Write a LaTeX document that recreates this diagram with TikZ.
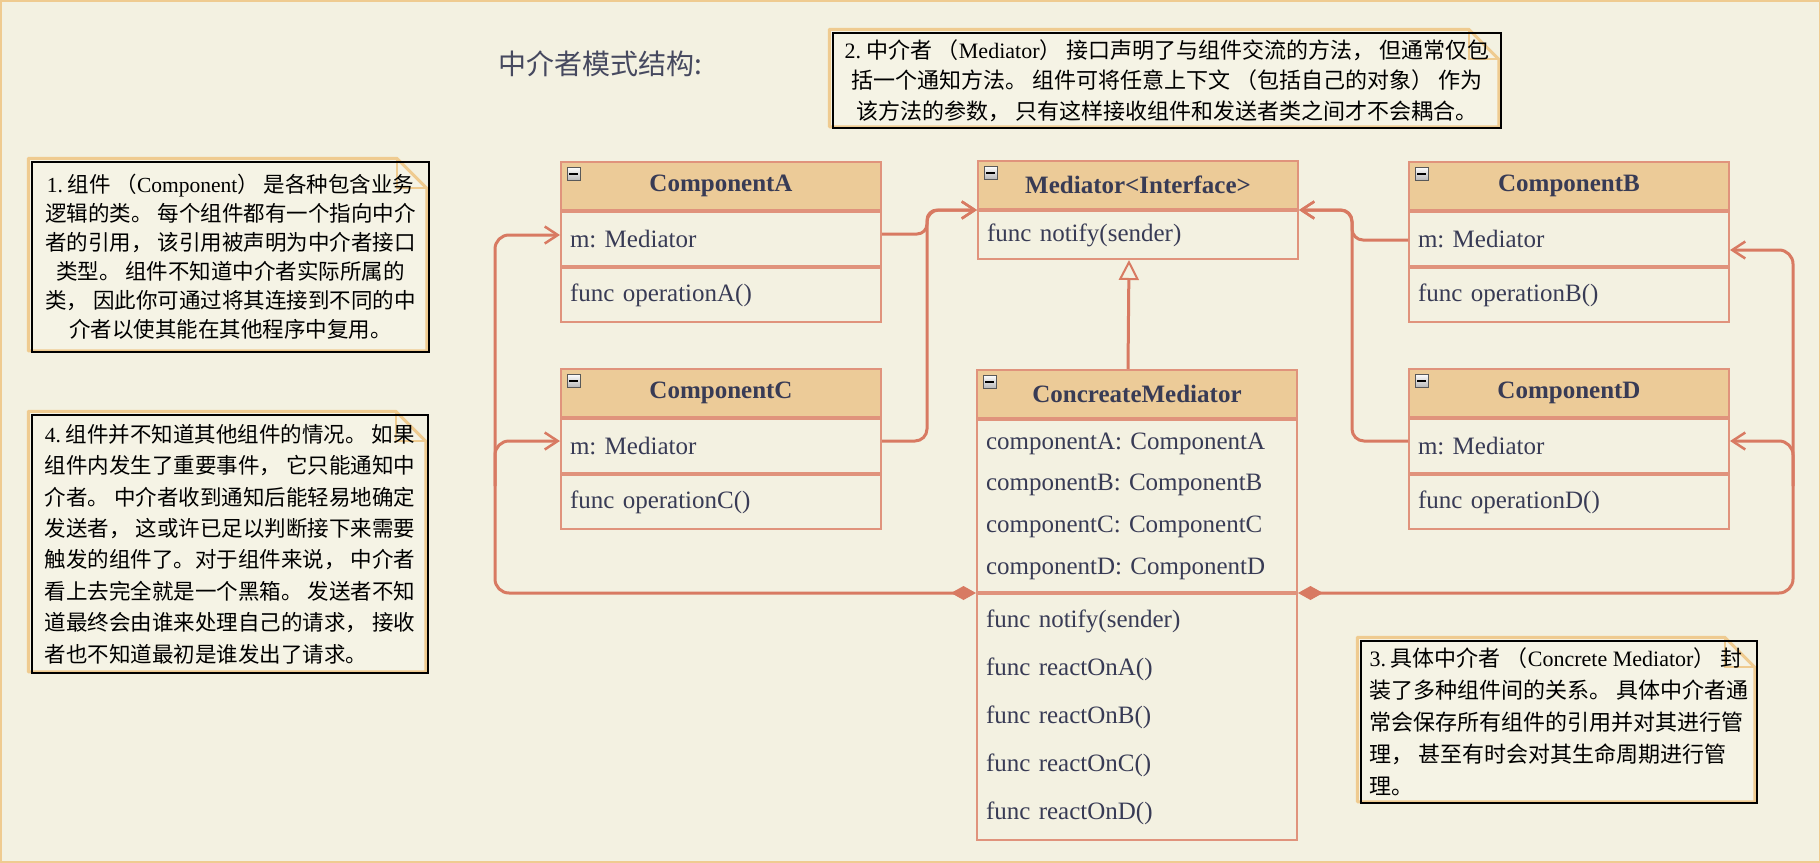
\documentclass[tikz,border=0pt]{standalone}
\usepackage{fontspec}
\setmainfont{Liberation Serif}
\newfontfamily\cjk{Noto Sans CJK SC}
\usetikzlibrary{arrows.meta,calc,backgrounds}
\definecolor{bgc}{HTML}{F3F1E1}
\definecolor{notefill}{HTML}{F5F3E5}
\definecolor{hdrc}{HTML}{ECCB98}
\definecolor{boxc}{HTML}{E0937C}
\definecolor{linec}{HTML}{D87A62}
\definecolor{txtc}{HTML}{383B55}
\definecolor{noteo}{HTML}{EFCB90}
\definecolor{titlec}{HTML}{46495F}
\newcommand\lat[1]{{\rmfamily #1}}
\newcommand\notefold[1]{%
  \filldraw[draw=noteo, fill=notefill, line width=3pt, line join=round]
    ($(#1.north west)+(-3,-3)$) -- ($(#1.north east)+(-33,-3)$) -- ($(#1.north east)+(-3,27)$)
    -- ($(#1.south east)+(-3,-2)$) -- ($(#1.south west)+(-3,-2)$) -- cycle;
  \draw[noteo, line width=2pt] ($(#1.north east)+(-33,-3)$) |- ($(#1.north east)+(-3,27)$);
}
\frenchspacing
\begin{document}
\begin{tikzpicture}[x=1pt,y=-1pt,
  hdr/.style={draw=boxc, line width=2pt, fill=hdrc, minimum width=320pt, minimum height=48pt,
    anchor=north west, font=\fontsize{25}{30}\selectfont\bfseries, text=txtc, inner sep=0pt},
  cmp/.style={draw=boxc, line width=2pt, fill=bgc, minimum width=320pt, anchor=north,
    text width=302pt, align=left, font=\fontsize{25}{30}\selectfont, text=txtc,
    inner xsep=9pt, inner ysep=0pt},
  icon/.style={draw=gray!70!black, line width=0.6pt, top color=white, bottom color=gray!55,
    minimum size=13pt, inner sep=0pt,
    path picture={\draw[black, line width=2pt] ($(path picture bounding box.center)+(-4.5,0)$) -- ($(path picture bounding box.center)+(4.5,0)$);}},
  conn/.style={draw=linec, line width=3pt, rounded corners=12pt,
    -{Straight Barb[length=13pt,width=17pt,line width=2.5pt]}},
  inh/.style={draw=linec, line width=3pt,
    -{Triangle[length=20pt,width=20pt,line width=2pt,fill=bgc]}},
  agg/.style={draw=linec, line width=3pt, rounded corners=14pt,
    {Diamond[length=25pt,width=14pt,fill=linec]}-{Straight Barb[length=13pt,width=17pt,line width=2.5pt]}},
  note/.style={draw=black, line width=1.5pt, inner sep=2pt, text=black},
  notea/.style={note, font=\cjk\fontsize{21.5}{29}\selectfont},
]
\useasboundingbox (0,0) rectangle (1820,862);

% title
\node[font=\cjk\fontsize{28}{32}\selectfont, text=titlec] (T) at (600,64) {中介者模式结构:};

% ComponentA
\node[hdr] (A) at (560,161) {ComponentA};
\node[cmp, minimum height=54pt] (Aa) at (A.south) {m: Mediator};
\node[cmp, minimum height=54pt] (Am) at (Aa.south) {func operationA()};
\node[icon] (Ai) at ($(A.north west)+(13.5,12.5)$) {};

% ComponentC
\node[hdr] (C) at (560,368) {ComponentC};
\node[cmp, minimum height=54pt] (Ca) at (C.south) {m: Mediator};
\node[cmp, minimum height=54pt] (Cm) at (Ca.south) {func operationC()};
\node[icon] (Ci) at ($(C.north west)+(13.5,12.5)$) {};

% ComponentB
\node[hdr] (B) at (1408,161) {ComponentB};
\node[cmp, minimum height=54pt] (Ba) at (B.south) {m: Mediator};
\node[cmp, minimum height=54pt] (Bm) at (Ba.south) {func operationB()};
\node[icon] (Bi) at ($(B.north west)+(13.5,12.5)$) {};

% ComponentD
\node[hdr] (D) at (1408,368) {ComponentD};
\node[cmp, minimum height=54pt] (Da) at (D.south) {m: Mediator};
\node[cmp, minimum height=54pt] (Dm) at (Da.south) {func operationD()};
\node[icon] (Di) at ($(D.north west)+(13.5,12.5)$) {};

% Mediator
\node[hdr] (Mh) at (977,160) {Mediator<Interface>};
\node[cmp, minimum height=48pt] (Ma) at (Mh.south) {func notify(sender)};
\node[icon] (Mi) at ($(Mh.north west)+(13.5,12.5)$) {};

% ConcreateMediator
\node[hdr] (CMh) at (976,369) {ConcreateMediator};
\node[cmp, minimum height=172pt, font=\fontsize{25}{41.7}\selectfont] (CMa) at (CMh.south)
  {componentA: ComponentA\\componentB: ComponentB\\componentC: ComponentC\\componentD: ComponentD};
\node[cmp, minimum height=246pt, font=\fontsize{25}{48}\selectfont] (CMm) at (CMa.south)
  {func notify(sender)\\func reactOnA()\\func reactOnB()\\func reactOnC()\\func reactOnD()};
\node[icon] (CMi) at ($(CMh.north west)+(13.5,12.5)$) {};

% notes
\node[notea, minimum width=397pt, minimum height=190pt, align=center] (N1) at (230.5,257)
  {\lat{1.} 组件 （\lat{Component}） 是各种包含业务\\
   逻辑的类。 每个组件都有一个指向中介\\
   者的引用， 该引用被声明为中介者接口\\
   类型。 组件不知道中介者实际所属的\\
   类， 因此你可通过将其连接到不同的中\\
   介者以使其能在其他程序中复用。};
\node[note, font=\cjk\fontsize{22}{30.5}\selectfont, minimum width=668pt, minimum height=95pt, align=center] (N2) at (1167,80.5)
  {\lat{2.} 中介者 （\lat{Mediator}） 接口声明了与组件交流的方法， 但通常仅包\\
   括一个通知方法。 组件可将任意上下文 （包括自己的对象） 作为\\
   该方法的参数， 只有这样接收组件和发送者类之间才不会耦合。};
\node[note, font=\cjk\fontsize{22}{32}\selectfont, minimum width=396pt, minimum height=162pt, align=left] (N3) at (1559,722)
  {\lat{3.} 具体中介者 （\lat{Concrete Mediator}） 封\\
   装了多种组件间的关系。 具体中介者通\\
   常会保存所有组件的引用并对其进行管\\
   理， 甚至有时会对其生命周期进行管\\
   理。};
\node[note, font=\cjk\fontsize{21.5}{31.4}\selectfont, minimum width=396pt, minimum height=258pt, align=left] (N4) at (230,544)
  {\lat{4.} 组件并不知道其他组件的情况。 如果\\
   组件内发生了重要事件， 它只能通知中\\
   介者。 中介者收到通知后能轻易地确定\\
   发送者， 这或许已足以判断接下来需要\\
   触发的组件了。对于组件来说， 中介者\\
   看上去完全就是一个黑箱。 发送者不知\\
   道最终会由谁来处理自己的请求， 接收\\
   者也不知道最初是谁发出了请求。};

% connectors to Mediator
\draw[conn, rounded corners=10pt] ([yshift=5pt]Aa.east) -| ($(Mh.south west)+(-50,0)$) -- (Mh.south west);
\draw[conn] ([yshift=5pt]Ca.east) -| ($(Mh.south west)+(-50,0)$) -- (Mh.south west);
\draw[conn, rounded corners=11pt] ([yshift=-1pt]Ba.west) -| ($(Mh.south east)+(53,0)$) -- (Mh.south east);
\draw[conn] ([yshift=5pt]Da.west) -| ($(Mh.south east)+(53,0)$) -- (Mh.south east);

% inheritance
\draw[inh] ([xshift=-9pt]CMh.north) -- ([xshift=-9pt]Ma.south);

% aggregation buses
\draw[agg] (CMa.south west) -| ($(Aa.west)+(-65,-4)$) -- ([yshift=4pt]Aa.west);
\draw[conn, rounded corners=14pt] ($(Ca.west)+(-65,40)$) |- ([yshift=5pt]Ca.west);
\draw[agg] (CMa.south east) -| ($(Ba.east)+(63,11)$) -- ([yshift=-11pt]Ba.east);
\draw[conn, rounded corners=14pt] ($(Da.east)+(63,40)$) |- ([yshift=5pt]Da.east);

\begin{scope}[on background layer]
  \fill[bgc] (0,0) rectangle (1820,862);
  \draw[noteo, line width=3pt] (0,0) rectangle (1820,862);
  \notefold{N1}
  \notefold{N2}
  \notefold{N3}
  \notefold{N4}
\end{scope}
\end{tikzpicture}
\end{document}
